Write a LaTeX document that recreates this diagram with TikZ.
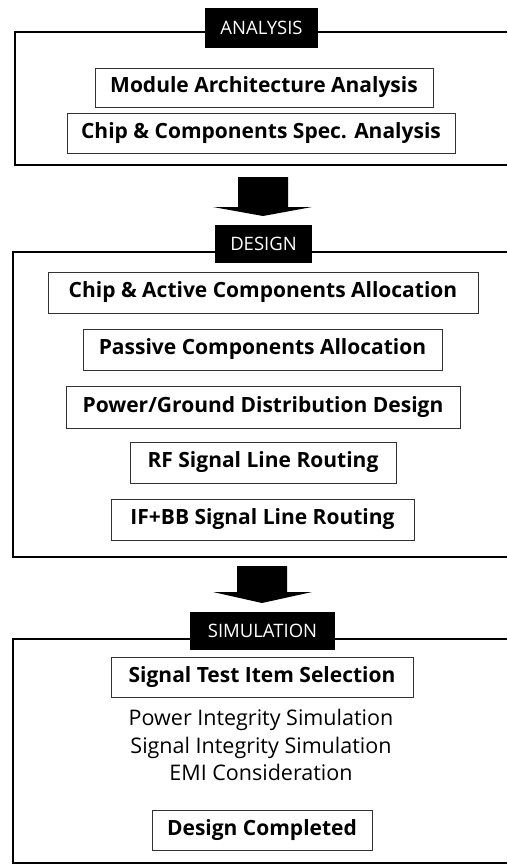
\documentclass[tikz,border=0pt]{standalone}
\usepackage{fontspec}
\setmainfont{Open Sans}
\begin{document}
\begin{tikzpicture}[x=1pt,y=-1pt,
  item/.style={draw=black!80,line width=0.8pt,inner sep=0pt,font=\fontsize{21}{24}\selectfont\bfseries},
  tag/.style={fill=black,text=white,inner sep=0pt,font=\fontsize{18.5}{20}\selectfont},
  frame/.style={line width=2.6pt,black},
  plain/.style={inner sep=0pt,font=\fontsize{21.5}{27.5}\selectfont,align=center},
  bigarrow/.style={fill=black}]
\useasboundingbox (0,0) rectangle (507,865);
% Analysis
\draw[frame] (507,32) -- (15,32) -- (15,165) -- (507,165);
\node[tag,minimum width=113pt,minimum height=40pt] (tA) at (261.5,28) {ANALYSIS};
\node[item,minimum width=338pt,minimum height=39pt] (a1) at (264,87.5) {Module Architecture Analysis};
\node[item,minimum width=388pt,minimum height=40pt] (a2) at (261,133) {Chip \& Components Spec. Analysis};
% arrow 1
\coordinate (ar1) at (263,177);
\fill[bigarrow] ([xshift=-25pt]ar1) -- ([xshift=25pt]ar1) -- ([xshift=25pt,yshift=-30pt]ar1) -- ([xshift=49pt,yshift=-30pt]ar1) -- ([yshift=-39pt]ar1) -- ([xshift=-50pt,yshift=-30pt]ar1) -- ([xshift=-25pt,yshift=-30pt]ar1) -- cycle;
% Design
\draw[frame] (507,252) -- (13,252) -- (13,557) -- (507,557);
\node[tag,minimum width=97pt,minimum height=38pt] (tD) at (263.5,244) {DESIGN};
\node[item,minimum width=430pt,minimum height=41pt] (d1) at (263,292.5) {Chip \& Active Components Allocation};
\node[item,minimum width=359pt,minimum height=41pt] (d2) at (262.5,349.5) {Passive Components Allocation};
\node[item,minimum width=394pt,minimum height=42pt] (d3) at (263,407) {Power/Ground Distribution Design};
\node[item,minimum width=266pt,minimum height=41pt] (d4) at (263,462.5) {RF Signal Line Routing};
\node[item,minimum width=303pt,minimum height=41pt] (d5) at (262.5,519.5) {IF+BB Signal Line Routing};
% arrow 2
\coordinate (ar2) at (262,566);
\fill[bigarrow] ([xshift=-25pt]ar2) -- ([xshift=25pt]ar2) -- ([xshift=25pt,yshift=-26pt]ar2) -- ([xshift=50pt,yshift=-26pt]ar2) -- ([yshift=-37pt]ar2) -- ([xshift=-49pt,yshift=-26pt]ar2) -- ([xshift=-25pt,yshift=-26pt]ar2) -- cycle;
% Simulation
\draw[frame] (507,639) -- (13,639) -- (13,863) -- (507,863);
\node[tag,minimum width=145pt,minimum height=38pt] (tS) at (262.5,631) {SIMULATION};
\node[item,minimum width=302pt,minimum height=40pt] (s1) at (262,677) {Signal Test Item Selection};
\node[plain] (s2) at (261,745) {Power Integrity Simulation\\Signal Integrity Simulation\\EMI Consideration};
\node[item,minimum width=220pt,minimum height=40pt] (s3) at (262,830) {Design Completed};
\end{tikzpicture}
\end{document}
